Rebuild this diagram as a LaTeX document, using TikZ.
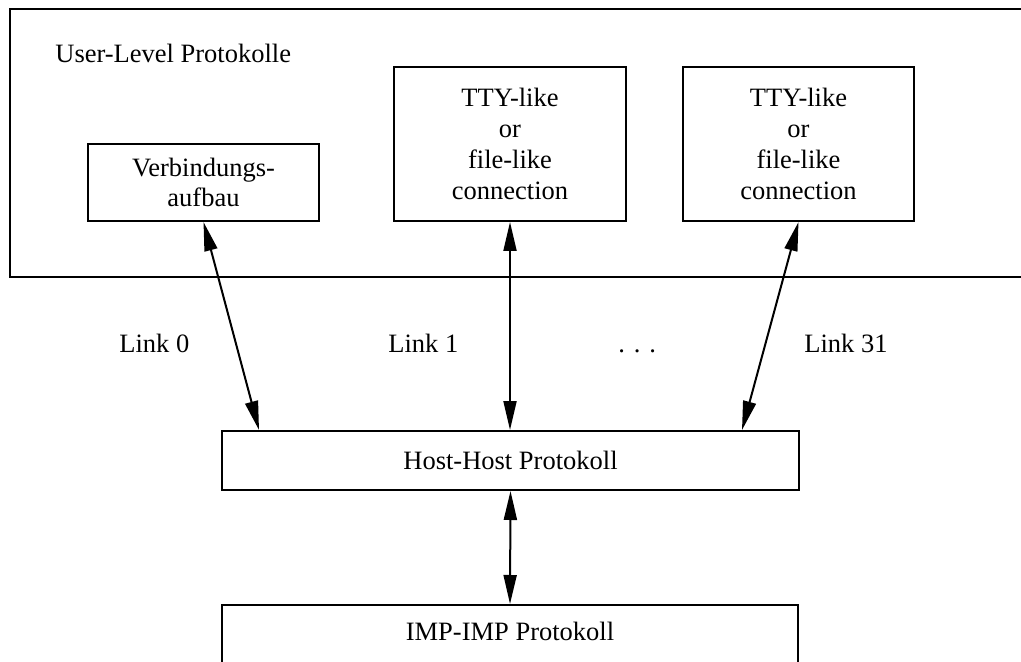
\documentclass[tikz,border=0pt]{standalone}
\usepackage{fontspec}
\setmainfont{Liberation Serif}
\usetikzlibrary{arrows.meta}
\begin{document}
\begin{tikzpicture}[x=0.5pt,y=-0.5pt,
  every node/.style={font=\fontsize{13.25}{15.3}\selectfont},
  box/.style={draw,line width=1pt,inner sep=0pt,align=center},
  lnk/.style={line width=1pt,{Triangle[length=14.5pt,width=6.5pt]}-{Triangle[length=14.5pt,width=6.5pt]}},
  lbl/.style={anchor=base west,inner sep=0pt}]
\clip (0,0) rectangle (1021,662);
\fill[white] (0,0) rectangle (1021,662);
\draw[line width=1pt] (10,9) rectangle (1060,277);
\node[lbl] (title) at (55,63) {User-Level Protokolle};
\node[box,minimum width=115.5pt,minimum height=38.5pt] (verb) at (203.5,182.5) {Verbindungs-\\aufbau};
\node[box,minimum width=116pt,minimum height=77pt,font=\fontsize{13.25}{15.5}\selectfont] (tty1) at (510,144) {TTY-like\\or\\file-like\\connection};
\node[box,minimum width=115.5pt,minimum height=77pt,font=\fontsize{13.25}{15.5}\selectfont] (tty2) at (798.5,144) {TTY-like\\or\\file-like\\connection};
\node[box,minimum width=288.5pt,minimum height=29.5pt] (host) at (510.5,460.5) {Host-Host Protokoll};
\node[box,minimum width=288pt,minimum height=48pt,anchor=north] (imp) at (510,604) {};
\node[anchor=base,inner sep=0pt] (imptxt) at (510,640) {IMP-IMP Protokoll};
\node[lbl] (l0) at (119,352) {Link 0};
\node[lbl] (l1) at (388,352) {Link 1};
\node[lbl] (ld) at (618,352) {. . .};
\node[lbl] (l31) at (804,352) {Link 31};
\draw[lnk] (verb.south) -- ([xshift=19pt]host.north west);
\draw[lnk] (tty1.south) -- (host.north -| tty1.south);
\draw[lnk] (tty2.south) -- ([xshift=-29pt]host.north east);
\draw[lnk] (host.south) -- (imp.north);
\end{tikzpicture}
\end{document}
